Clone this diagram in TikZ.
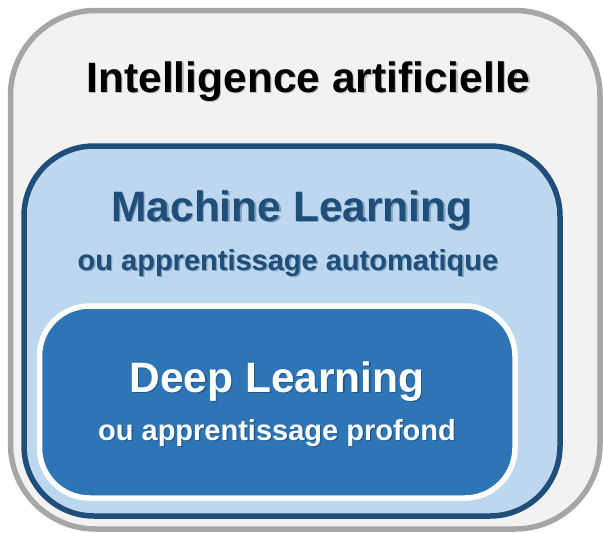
\documentclass[tikz,border=0pt]{standalone}
\usepackage{fontspec}
\setmainfont{Liberation Sans}
\usetikzlibrary{positioning}

\definecolor{aiborder}{HTML}{A6A6A6}
\definecolor{aifill}{HTML}{F2F2F2}
\definecolor{mlborder}{HTML}{1F4E79}
\definecolor{mlfill}{HTML}{BDD7EE}
\definecolor{dlfill}{HTML}{2E75B6}

% text with a light drop shadow under it
\newcommand\shadowed[2]{\makebox[0pt][l]{\hspace{1.3pt}\raisebox{-1.3pt}{\textcolor{#1}{#2}}}#2}

\tikzset{
	area box/.style = {
		rectangle,
		inner sep = 0pt,
		line width = 5.5pt
	},
	ai box/.style = {
		area box,
		draw = aiborder,
		fill = aifill,
		rounded corners = 85pt
	},
	ml box/.style = {
		area box,
		draw = mlborder,
		fill = mlfill,
		rounded corners = 70pt
	},
	dl box/.style = {
		area box,
		draw = white,
		fill = dlfill,
		rounded corners = 50pt
	},
	head text/.style = {
		anchor = base,
		inner sep = 0pt,
		font = \fontsize{42.5}{48}\selectfont\bfseries
	},
	sub text/.style = {
		inner sep = 0pt,
		font = \fontsize{29}{34}\selectfont\bfseries
	}
}

\begin{document}
\begin{tikzpicture}[x=1pt, y=-1pt]
							\useasboundingbox (0,0) rectangle (603,533);
							% nested areas
							\node at (305.25,269.75) [ai box, minimum width=589.5pt, minimum height=518.5pt] (ai) {};
							\node at (292,331)       [ml box, minimum width=536pt, minimum height=370pt] (ml) {};
							\node at (277.25,402)    [dl box, minimum width=475.5pt, minimum height=192pt] (dl) {};
							% labels
							\node at (308.5,92) [head text, text=black] (ainame) {\shadowed{black!28}{Intelligence artificielle}};
							\node at (292,221)  [head text, text=mlborder] (mlname) {\shadowed{mlborder!40!mlfill}{Machine Learning}};
							\node [sub text, text=mlborder, below=49pt of mlname.base, anchor=base, xshift=-4pt] (mlsub) {\shadowed{mlborder!40!mlfill}{ou apprentissage automatique}};
							\node at (277,392)  [head text, text=white] (dlname) {\shadowed{mlborder!75!dlfill}{Deep Learning}};
							\node [sub text, text=white, below=48pt of dlname.base, anchor=base] (dlsub) {\shadowed{mlborder!75!dlfill}{ou apprentissage profond}};
						\end{tikzpicture}
\end{document}
